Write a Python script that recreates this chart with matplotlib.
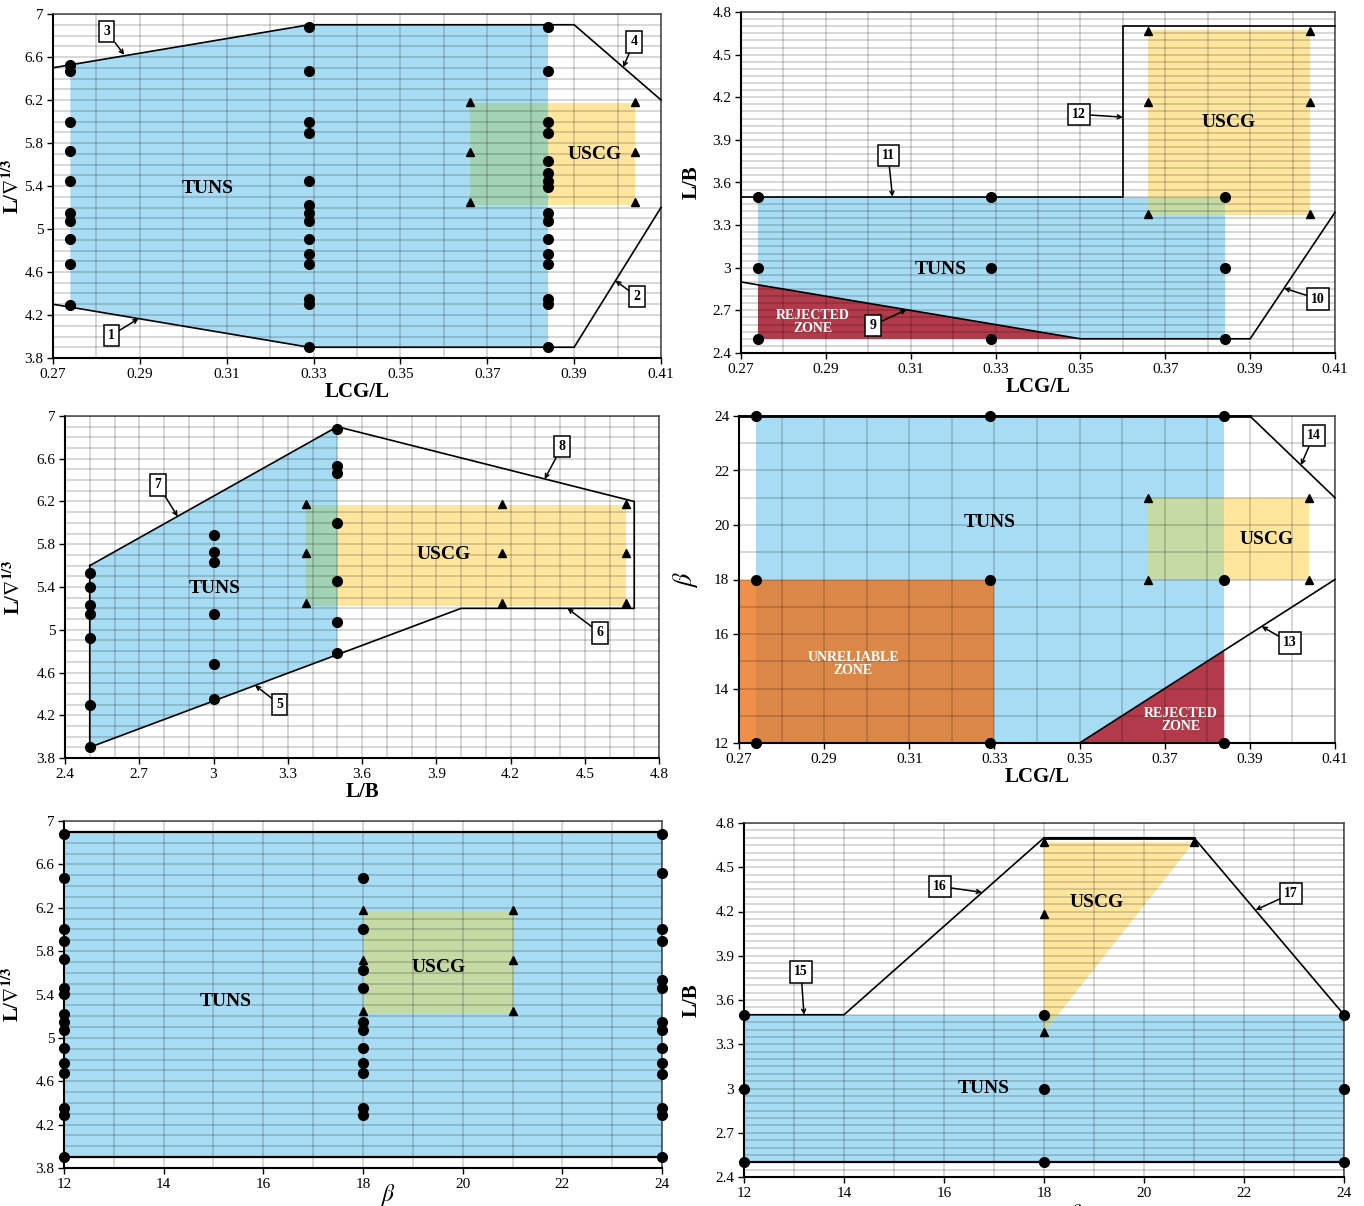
import numpy as np
import matplotlib
matplotlib.use("Agg")
import matplotlib.pyplot as plt
from matplotlib.ticker import FixedLocator, FuncFormatter
from matplotlib.patches import Polygon

plt.rcParams['font.family'] = ['Liberation Serif', 'DejaVu Serif']
plt.rcParams['mathtext.fontset'] = 'stix'

# ---------------- data ----------------
# common test points
lcg_cols = [0.274, 0.329, 0.384]
beta_cols = [12, 18, 24]
lb_cols = [2.5, 3.0, 3.5]
uscg_lcg = [0.366, 0.404]
uscg_lb = [3.375, 4.167, 4.667]
uscg_lvol = [5.25, 5.72, 6.18]
uscg_beta = [18, 21]
uscg_lvol_box = [5.22, 6.17]
uscg_lb_box = [3.37, 4.67]

# panel 1 : LCG/L vs L/vol^1/3
p1_up_x = [0.27, 0.329, 0.39, 0.41]
p1_up_y = [6.5, 6.9, 6.9, 6.2]
p1_lo_x = [0.27, 0.329, 0.39, 0.41]
p1_lo_y = [4.3, 3.9, 3.9, 5.2]
p1_dots = [
    [6.53, 6.47, 6.0, 5.73, 5.45, 5.15, 5.07, 4.91, 4.67, 4.29],
    [6.88, 6.47, 6.0, 5.89, 5.45, 5.22, 5.15, 5.07, 4.91, 4.77, 4.67, 4.35, 4.30, 3.90],
    [6.88, 6.47, 6.0, 5.89, 5.63, 5.52, 5.45, 5.39, 5.15, 5.07, 4.91, 4.77, 4.67, 4.35, 4.30, 3.90],
]

# panel 2 : LCG/L vs L/B
p2_up_x = [0.27, 0.36, 0.36, 0.41]
p2_up_y = [3.5, 3.5, 4.7, 4.7]
p2_lo_x = [0.27, 0.35, 0.39, 0.41]
p2_lo_y = [2.9, 2.5, 2.5, 3.39]
p2_dots = [2.5, 3.0, 3.5]

# panel 3 : L/B vs L/vol^1/3
p3_up_x = [2.5, 3.5, 4.7]
p3_up_y = [5.6, 6.9, 6.2]
p3_lo_x = [2.5, 4.0, 4.7]
p3_lo_y = [3.9, 5.2, 5.2]
p3_dots = [
    [5.53, 5.40, 5.23, 5.15, 4.92, 4.30, 3.90],
    [5.89, 5.73, 5.63, 5.15, 4.68, 4.35],
    [6.88, 6.53, 6.47, 6.00, 5.46, 5.07, 4.78],
]

# panel 4 : LCG/L vs beta
p4_line13_x = [0.35, 0.41]
p4_line13_y = [12, 18]
p4_line14_x = [0.39, 0.41]
p4_line14_y = [24, 21]
p4_top_x = [0.27, 0.39]
p4_beta_range = [12, 24]
p4_unrel_x = [0.27, 0.33]
p4_unrel_y = [12, 18]
p4_dots = [12, 18, 24]
p4_uscg_beta = [18, 21]

# panel 5 : beta vs L/vol^1/3
p5_lvol_range = [3.9, 6.9]
p5_dots = [
    [6.88, 6.47, 6.0, 5.89, 5.73, 5.46, 5.40, 5.22, 5.15, 5.07, 4.91, 4.77, 4.68, 4.35, 4.29, 3.9],
    [6.47, 6.0, 5.63, 5.46, 5.15, 5.07, 4.91, 4.77, 4.68, 4.35, 4.29],
    [6.88, 6.52, 6.0, 5.89, 5.53, 5.46, 5.15, 5.07, 4.91, 4.77, 4.67, 4.35, 4.29, 3.9],
]

# panel 6 : beta vs L/B
p6_up_x = [12, 14, 18, 21, 24]
p6_up_y = [3.5, 3.5, 4.7, 4.7, 3.5]
p6_lb_range = [2.5, 3.5]
p6_dots = [2.5, 3.0, 3.5]
p6_uscg_x = [18, 21, 18]
p6_uscg_y = [4.67, 4.67, 3.38]
p6_tri_x = [18, 21, 18, 18]
p6_tri_y = [4.67, 4.67, 4.18, 3.38]

BLUE = '#A8DCF4'
YELLOW = '#FFE69E'
GREEN_A = '#A3D3B5'
GREEN_B = '#C5DAA5'
RED = '#B33A4A'
ORANGE = '#EB6D11'

W, H = 1364, 1206
fig = plt.figure(figsize=(W / 100, H / 100), dpi=100)


def make_ax(l, r, t, b):
    return fig.add_axes([l / W, 1 - b / H, (r - l) / W, (b - t) / H])


def fmt(v, pos):
    return '%g' % round(v, 3)


def style(ax, xlim, ylim, xstep, ystep, xmin, ymin):
    ax.set_xlim(xlim)
    ax.set_ylim(ylim)
    xt = np.round(np.arange(xlim[0], xlim[1] + 1e-9, xstep), 3)
    yt = np.round(np.arange(ylim[0], ylim[1] + 1e-9, ystep), 3)
    ax.xaxis.set_major_locator(FixedLocator(xt))
    ax.yaxis.set_major_locator(FixedLocator(yt))
    ax.xaxis.set_minor_locator(FixedLocator(np.round(np.arange(xlim[0], xlim[1] + 1e-9, xmin), 3)))
    ax.yaxis.set_minor_locator(FixedLocator(np.round(np.arange(ylim[0], ylim[1] + 1e-9, ymin), 3)))
    ax.xaxis.set_major_formatter(FuncFormatter(fmt))
    ax.yaxis.set_major_formatter(FuncFormatter(fmt))
    ax.set_axisbelow(False)
    ax.grid(which='both', color='black', alpha=0.2, lw=1.1)
    ax.tick_params(which='major', direction='out', length=4, width=1, labelsize=11, pad=3)
    ax.tick_params(which='minor', length=0)
    for s in ['left', 'bottom']:
        ax.spines[s].set_linewidth(1.5)
        ax.spines[s].set_color('black')
    for s in ['top', 'right']:
        ax.spines[s].set_linewidth(1.2)
        ax.spines[s].set_color('#555555')


def region(ax, xy, color, z=1.0, alpha=1.0):
    p = Polygon(xy, closed=True, fc=color, ec='none', zorder=z, alpha=alpha)
    ax.add_patch(p)
    return p


def uscg(ax, xy, blue_patch, green):
    region(ax, xy, YELLOW, z=1.2)
    q = region(ax, xy, green, z=1.3)
    q.set_clip_path(blue_patch)


def rect(x, y):
    return [(x[0], y[0]), (x[1], y[0]), (x[1], y[1]), (x[0], y[1])]


def dots(ax, xs, ys):
    ax.plot(xs, ys, 'o', color='black', ms=7, zorder=5, clip_on=False)


def tris(ax, xs, ys):
    ax.plot(xs, ys, '^', color='black', ms=6, zorder=5, clip_on=False)


def bline(ax, xs, ys, lw=1.2):
    ax.plot(xs, ys, color='black', lw=lw, zorder=4, clip_on=False)


def box(ax, txt, xytext, xytip):
    ax.annotate(txt, xy=xytip, xytext=xytext, ha='center', va='center',
                fontsize=10, fontweight='bold', zorder=7,
                bbox=dict(boxstyle='square,pad=0.3', fc='white', ec='black', lw=1.1),
                arrowprops=dict(arrowstyle='->', lw=1.1, color='black',
                                shrinkA=0, shrinkB=0, mutation_scale=7))


def label(ax, txt, x, y, size=14, color='black'):
    ax.text(x, y, txt, ha='center', va='center', fontsize=size,
            fontweight='bold', color=color, zorder=6, linespacing=1.0)


def ylab(ax, txt, xpos, size=15, bold=True):
    ax.set_ylabel(txt, fontsize=size, fontweight='bold' if bold else 'normal')
    ax.yaxis.set_label_coords(xpos, 0.5)


LVOL = r'L/$\nabla^{\mathbf{1/3}}$'

# ---------------- panel 1 ----------------
ax = make_ax(53, 661, 14, 358)
style(ax, (0.27, 0.41), (3.8, 7.0), 0.02, 0.4, 0.01, 0.1)
xs = np.array(lcg_cols)
up = np.interp(xs, p1_up_x, p1_up_y)
lo = np.interp(xs, p1_lo_x, p1_lo_y)
blue = region(ax, list(zip(xs, up)) + list(zip(xs[::-1], lo[::-1])), BLUE)
uscg(ax, rect(uscg_lcg, uscg_lvol_box), blue, GREEN_A)
bline(ax, p1_up_x, p1_up_y)
bline(ax, p1_lo_x, p1_lo_y)
for x, col in zip(lcg_cols, p1_dots):
    dots(ax, [x] * len(col), col)
for x in uscg_lcg:
    tris(ax, [x] * len(uscg_lvol), uscg_lvol)
label(ax, 'TUNS', 0.3057, 5.38)
label(ax, 'USCG', 0.3947, 5.69)
box(ax, '1', (0.2834, 4.01), (0.2897, 4.166))
box(ax, '2', (0.4045, 4.37), (0.3995, 4.52))
box(ax, '3', (0.2824, 6.835), (0.2864, 6.62))
box(ax, '4', (0.4038, 6.74), (0.4013, 6.505))
ax.set_xlabel('LCG/L', fontsize=15, fontweight='bold', labelpad=1)
ylab(ax, LVOL, -0.05)

# ---------------- panel 2 ----------------
ax = make_ax(741, 1335, 12, 353)
style(ax, (0.27, 0.41), (2.4, 4.8), 0.02, 0.3, 0.01, 0.05)
blue = region(ax, rect([lcg_cols[0], lcg_cols[-1]], [p2_dots[0], p2_dots[-1]]), BLUE)
y0 = np.interp(lcg_cols[0], p2_lo_x, p2_lo_y)
region(ax, [(lcg_cols[0], y0), (p2_lo_x[1], p2_lo_y[1]), (lcg_cols[0], p2_lo_y[1])], RED, z=1.1)
uscg(ax, rect(uscg_lcg, uscg_lb_box), blue, GREEN_B)
bline(ax, p2_up_x, p2_up_y)
bline(ax, p2_lo_x, p2_lo_y)
for x in lcg_cols:
    dots(ax, [x] * len(p2_dots), p2_dots)
for x in uscg_lcg:
    tris(ax, [x] * len(uscg_lb), uscg_lb)
label(ax, 'TUNS', 0.317, 2.99)
label(ax, 'USCG', 0.385, 4.02)
label(ax, 'REJECTED\nZONE', 0.287, 2.62, size=10, color='white')
box(ax, '9', (0.3011, 2.595), (0.309, 2.705))
box(ax, '10', (0.406, 2.78), (0.398, 2.856))
box(ax, '11', (0.3047, 3.79), (0.3057, 3.5))
box(ax, '12', (0.3496, 4.08), (0.36, 4.06))
ax.set_xlabel('LCG/L', fontsize=15, fontweight='bold', labelpad=1)
ylab(ax, 'L/B', -0.066)

# ---------------- panel 3 ----------------
ax = make_ax(65, 659, 416, 758)
style(ax, (2.4, 4.8), (3.8, 7.0), 0.3, 0.4, 0.1, 0.1)
xs = np.array(lb_cols)[[0, -1]]
up = np.interp(xs, p3_up_x, p3_up_y)
lo = np.interp(xs, p3_lo_x, p3_lo_y)
blue = region(ax, list(zip(xs, up)) + list(zip(xs[::-1], lo[::-1])), BLUE)
uscg(ax, rect([uscg_lb[0], uscg_lb[-1]], uscg_lvol_box), blue, GREEN_A)
bline(ax, p3_up_x + p3_lo_x[::-1] + [p3_up_x[0]], p3_up_y + p3_lo_y[::-1] + [p3_up_y[0]])
for x, col in zip(lb_cols, p3_dots):
    dots(ax, [x] * len(col), col)
for x in uscg_lb:
    tris(ax, [x] * len(uscg_lvol), uscg_lvol)
label(ax, 'TUNS', 3.005, 5.39)
label(ax, 'USCG', 3.93, 5.70)
box(ax, '5', (3.268, 4.30), (3.168, 4.48))
box(ax, '6', (4.562, 4.97), (4.43, 5.2))
box(ax, '7', (2.776, 6.355), (2.855, 6.06))
box(ax, '8', (4.408, 6.713), (4.338, 6.41))
ax.set_xlabel('L/B', fontsize=15, fontweight='bold', labelpad=1)
ylab(ax, LVOL, -0.07)

# ---------------- panel 4 ----------------
ax = make_ax(739, 1335, 416, 743)
style(ax, (0.27, 0.41), (12, 24), 0.02, 2, 0.01, 1)
blue = region(ax, rect([lcg_cols[0], lcg_cols[-1]], p4_beta_range), BLUE)
region(ax, rect(p4_unrel_x, p4_unrel_y), ORANGE, z=1.4, alpha=0.76)
yr = np.interp(lcg_cols[-1], p4_line13_x, p4_line13_y)
region(ax, [(p4_line13_x[0], p4_line13_y[0]), (lcg_cols[-1], yr), (lcg_cols[-1], p4_beta_range[0])], RED, z=1.1)
uscg(ax, rect(uscg_lcg, p4_uscg_beta), blue, GREEN_B)
bline(ax, p4_line13_x, p4_line13_y)
bline(ax, p4_line14_x, p4_line14_y)
bline(ax, p4_top_x, [p4_beta_range[1]] * 2, lw=2)
for x in lcg_cols:
    dots(ax, [x] * len(p4_dots), p4_dots)
for x in uscg_lcg:
    tris(ax, [x] * len(p4_uscg_beta), p4_uscg_beta)
label(ax, 'TUNS', 0.3288, 20.09)
label(ax, 'USCG', 0.394, 19.45)
label(ax, 'UNRELIABLE\nZONE', 0.2968, 14.9, size=10, color='white')
label(ax, 'REJECTED\nZONE', 0.3737, 12.83, size=10, color='white')
box(ax, '13', (0.3995, 15.67), (0.3928, 16.28))
box(ax, '14', (0.405, 23.28), (0.402, 22.2))
ax.set_xlabel('LCG/L', fontsize=15, fontweight='bold', labelpad=1)
ylab(ax, r'$\beta$', -0.066, size=19, bold=False)

# ---------------- panel 5 ----------------
ax = make_ax(64, 662, 821, 1168)
style(ax, (12, 24), (3.8, 7.0), 2, 0.4, 1, 0.1)
blue = region(ax, rect([beta_cols[0], beta_cols[-1]], p5_lvol_range), BLUE)
uscg(ax, rect(uscg_beta, uscg_lvol_box), blue, GREEN_B)
for yv in p5_lvol_range:
    bline(ax, [beta_cols[0], beta_cols[-1]], [yv, yv], lw=1.6)
for x, col in zip(beta_cols, p5_dots):
    dots(ax, [x] * len(col), col)
for x in uscg_beta:
    tris(ax, [x] * len(uscg_lvol), uscg_lvol)
label(ax, 'TUNS', 15.24, 5.34)
label(ax, 'USCG', 19.51, 5.65)
ax.set_xlabel(r'$\beta$', fontsize=17)
ax.xaxis.set_label_coords(0.542, -0.04)
ylab(ax, LVOL, -0.07)

# ---------------- panel 6 ----------------
ax = make_ax(744, 1344, 823, 1177)
style(ax, (12, 24), (2.4, 4.8), 2, 0.3, 1, 0.05)
blue = region(ax, rect([beta_cols[0], beta_cols[-1]], p6_lb_range), BLUE)
uscg(ax, list(zip(p6_uscg_x, p6_uscg_y)), blue, GREEN_B)
bline(ax, p6_up_x, p6_up_y)
bline(ax, p6_up_x[2:4], p6_up_y[2:4], lw=2)
bline(ax, [beta_cols[0], beta_cols[-1]], [p6_lb_range[0]] * 2, lw=1.6)
for x in beta_cols:
    dots(ax, [x] * len(p6_dots), p6_dots)
tris(ax, p6_tri_x, p6_tri_y)
label(ax, 'TUNS', 16.8, 3.0)
label(ax, 'USCG', 19.05, 4.26)
box(ax, '15', (13.14, 3.79), (13.2, 3.5))
box(ax, '16', (15.92, 4.37), (16.76, 4.33))
box(ax, '17', (22.94, 4.32), (22.23, 4.21))
ax.set_xlabel(r'$\beta$', fontsize=17)
ax.xaxis.set_label_coords(0.553, -0.07)
ylab(ax, 'L/B', -0.07)

fig.savefig('out.png', dpi=100)
